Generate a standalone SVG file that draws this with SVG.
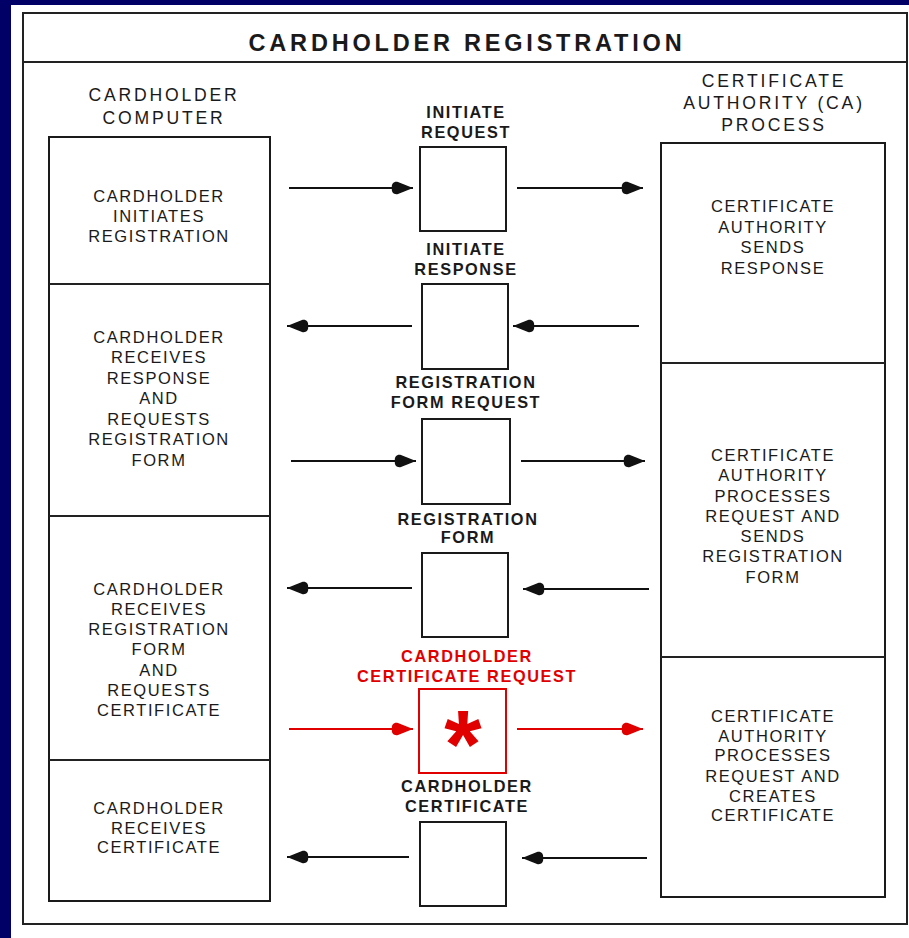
<svg xmlns="http://www.w3.org/2000/svg" width="909" height="938" viewBox="0 0 909 938">
  <style>
    .frame { fill: none; stroke: #222; stroke-width: 2; }
    .box { fill: #fff; stroke: #1a1a1a; stroke-width: 2; }
    .rbox { fill: #fff; stroke: #e00000; stroke-width: 2; }
    .title { font-family: "Liberation Sans", Arial, sans-serif; font-weight: bold; font-size: 23.5px; letter-spacing: 3.8px; fill: #1a1a1a; text-anchor: middle; }
    .head { font-family: "Liberation Sans", Arial, sans-serif; font-size: 17.6px; letter-spacing: 2.8px; fill: #1a1a1a; text-anchor: middle; }
    .body { font-family: "Liberation Sans", Arial, sans-serif; font-size: 16.5px; letter-spacing: 1.6px; fill: #1a1a1a; text-anchor: middle; }
    .lbl { font-family: "Liberation Sans", Arial, sans-serif; font-weight: bold; font-size: 16.3px; letter-spacing: 1.6px; fill: #1a1a1a; text-anchor: middle; }
    .lbl.red { fill: #e00000; }
    .ast { font-family: "Liberation Sans", Arial, sans-serif; font-weight: bold; font-size: 96px; fill: #e00000; text-anchor: middle; }
    .conn { stroke: #111; stroke-width: 2; fill: none; marker-end: url(#head); }
    .conn.red { stroke: #e00000; marker-end: url(#headRed); }
  </style>
  <defs>
    <marker id="head" markerUnits="userSpaceOnUse" viewBox="-23 -8 24 16" refX="0" refY="0" markerWidth="24" markerHeight="16" orient="auto">
      <path d="M0,0 L-15,-6 C-19,-7 -22,-4 -21,0 C-22,4 -19,7 -15,6 Z" fill="#111"/>
    </marker>
    <marker id="headRed" markerUnits="userSpaceOnUse" viewBox="-23 -8 24 16" refX="0" refY="0" markerWidth="24" markerHeight="16" orient="auto">
      <path d="M0,0 L-15,-6 C-19,-7 -22,-4 -21,0 C-22,4 -19,7 -15,6 Z" fill="#e00000"/>
    </marker>
  </defs>

  <!-- page background and sheet -->
  <rect x="0" y="0" width="909" height="938" fill="#000066"/>
  <rect x="11" y="5" width="898" height="933" fill="#fff"/>

  <!-- outer frame and title band -->
  <g id="frame">
    <rect class="frame" x="23" y="13" width="884" height="911"/>
    <line class="frame" x1="23" y1="62" x2="907" y2="62"/>
    <text class="title" x="467" y="51">CARDHOLDER REGISTRATION</text>
  </g>

  <!-- column headings -->
  <g id="head-cardholder">
    <text class="head" x="164" y="101">CARDHOLDER</text>
    <text class="head" x="164" y="124">COMPUTER</text>
  </g>
  <g id="head-ca">
    <text class="head" x="774" y="87">CERTIFICATE</text>
    <text class="head" x="774" y="109">AUTHORITY (CA)</text>
    <text class="head" x="774" y="131">PROCESS</text>
  </g>

  <!-- cardholder computer column -->
  <g id="cardholder-column">
    <rect class="box" x="49" y="137" width="221" height="764"/>
    <line class="frame" x1="49" y1="284" x2="270" y2="284"/>
    <line class="frame" x1="49" y1="516" x2="270" y2="516"/>
    <line class="frame" x1="49" y1="760" x2="270" y2="760"/>
  </g>
  <g id="ch-initiates">
    <text class="body" x="159" y="202">CARDHOLDER</text>
    <text class="body" x="159" y="222">INITIATES</text>
    <text class="body" x="159" y="242">REGISTRATION</text>
  </g>
  <g id="ch-receives-response">
    <text class="body" x="159" y="343">CARDHOLDER</text>
    <text class="body" x="159" y="363">RECEIVES</text>
    <text class="body" x="159" y="384">RESPONSE</text>
    <text class="body" x="159" y="404">AND</text>
    <text class="body" x="159" y="425">REQUESTS</text>
    <text class="body" x="159" y="445">REGISTRATION</text>
    <text class="body" x="159" y="466">FORM</text>
  </g>
  <g id="ch-receives-form">
    <text class="body" x="159" y="595">CARDHOLDER</text>
    <text class="body" x="159" y="615">RECEIVES</text>
    <text class="body" x="159" y="635">REGISTRATION</text>
    <text class="body" x="159" y="655">FORM</text>
    <text class="body" x="159" y="676">AND</text>
    <text class="body" x="159" y="696">REQUESTS</text>
    <text class="body" x="159" y="716">CERTIFICATE</text>
  </g>
  <g id="ch-receives-cert">
    <text class="body" x="159" y="814">CARDHOLDER</text>
    <text class="body" x="159" y="834">RECEIVES</text>
    <text class="body" x="159" y="853">CERTIFICATE</text>
  </g>

  <!-- certificate authority column -->
  <g id="ca-column">
    <rect class="box" x="661" y="143" width="224" height="754"/>
    <line class="frame" x1="661" y1="363" x2="885" y2="363"/>
    <line class="frame" x1="661" y1="657" x2="885" y2="657"/>
  </g>
  <g id="ca-sends-response">
    <text class="body" x="773" y="212">CERTIFICATE</text>
    <text class="body" x="773" y="233">AUTHORITY</text>
    <text class="body" x="773" y="253">SENDS</text>
    <text class="body" x="773" y="274">RESPONSE</text>
  </g>
  <g id="ca-sends-form">
    <text class="body" x="773" y="461">CERTIFICATE</text>
    <text class="body" x="773" y="481">AUTHORITY</text>
    <text class="body" x="773" y="502">PROCESSES</text>
    <text class="body" x="773" y="522">REQUEST AND</text>
    <text class="body" x="773" y="542">SENDS</text>
    <text class="body" x="773" y="562">REGISTRATION</text>
    <text class="body" x="773" y="583">FORM</text>
  </g>
  <g id="ca-creates-cert">
    <text class="body" x="773" y="722">CERTIFICATE</text>
    <text class="body" x="773" y="742">AUTHORITY</text>
    <text class="body" x="773" y="761">PROCESSES</text>
    <text class="body" x="773" y="782">REQUEST AND</text>
    <text class="body" x="773" y="802">CREATES</text>
    <text class="body" x="773" y="821">CERTIFICATE</text>
  </g>

  <!-- message boxes -->
  <g id="msg-initiate-request">
    <text class="lbl" x="466" y="118">INITIATE</text>
    <text class="lbl" x="466" y="138">REQUEST</text>
    <rect class="box" x="420" y="147" width="86" height="84"/>
  </g>
  <g id="msg-initiate-response">
    <text class="lbl" x="466" y="255">INITIATE</text>
    <text class="lbl" x="466" y="275">RESPONSE</text>
    <rect class="box" x="422" y="284" width="86" height="85"/>
  </g>
  <g id="msg-form-request">
    <text class="lbl" x="466" y="388">REGISTRATION</text>
    <text class="lbl" x="466" y="408">FORM REQUEST</text>
    <rect class="box" x="422" y="419" width="88" height="85"/>
  </g>
  <g id="msg-form">
    <text class="lbl" x="468" y="525">REGISTRATION</text>
    <text class="lbl" x="468" y="543">FORM</text>
    <rect class="box" x="422" y="553" width="86" height="84"/>
  </g>
  <g id="msg-cert-request">
    <text class="lbl red" x="467" y="662">CARDHOLDER</text>
    <text class="lbl red" x="467" y="682">CERTIFICATE REQUEST</text>
    <rect class="rbox" x="419" y="689" width="87" height="84"/>
    <text class="ast" x="463" y="777">*</text>
  </g>
  <g id="msg-cert">
    <text class="lbl" x="467" y="792">CARDHOLDER</text>
    <text class="lbl" x="467" y="812">CERTIFICATE</text>
    <rect class="box" x="420" y="822" width="86" height="84"/>
  </g>

  <!-- connectors -->
  <g id="connectors">
    <line class="conn" x1="289" y1="188" x2="413" y2="188"/>
    <line class="conn" x1="517" y1="188" x2="643" y2="188"/>
    <line class="conn" x1="412" y1="326" x2="287" y2="326"/>
    <line class="conn" x1="639" y1="326" x2="513" y2="326"/>
    <line class="conn" x1="291" y1="461" x2="416" y2="461"/>
    <line class="conn" x1="521" y1="461" x2="645" y2="461"/>
    <line class="conn" x1="412" y1="588" x2="287" y2="588"/>
    <line class="conn" x1="649" y1="589" x2="523" y2="589"/>
    <line class="conn red" x1="289" y1="729" x2="413" y2="729"/>
    <line class="conn red" x1="517" y1="729" x2="643" y2="729"/>
    <line class="conn" x1="409" y1="857" x2="287" y2="857"/>
    <line class="conn" x1="647" y1="858" x2="522" y2="858"/>
  </g>
</svg>
